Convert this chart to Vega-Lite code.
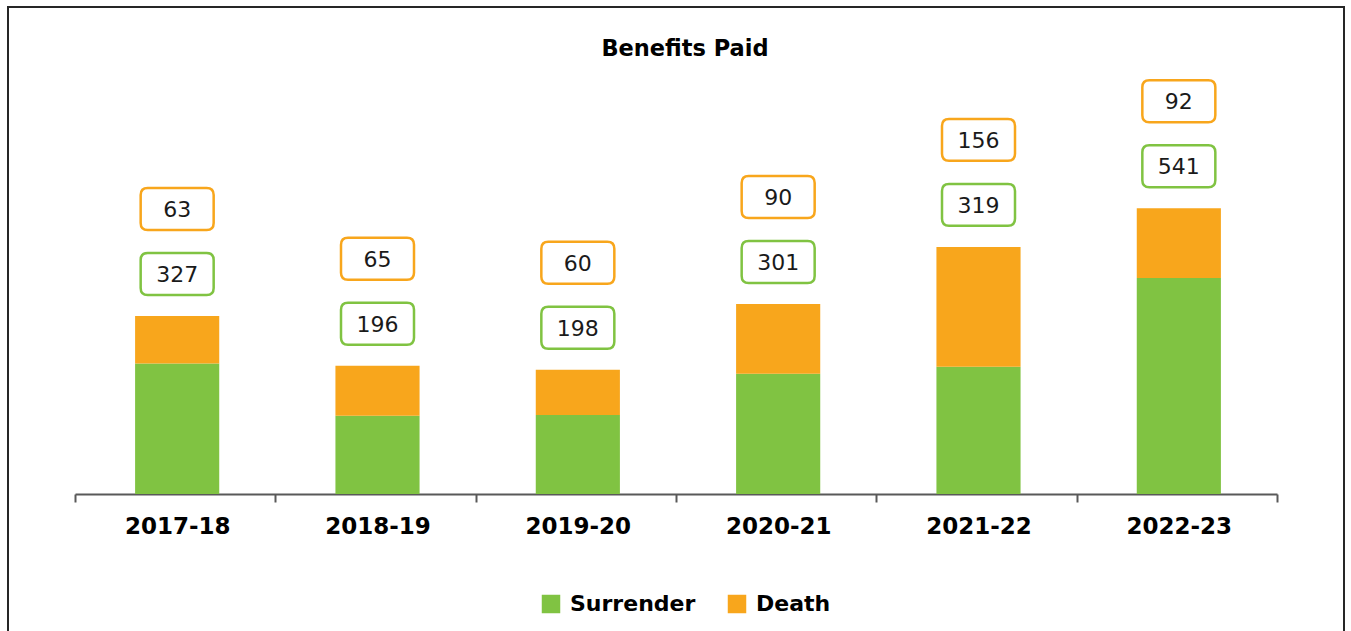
{
  "$schema": "https://vega.github.io/schema/vega-lite/v6.json",
  "autosize": {"type": "none"},
  "padding": {"left": 8, "top": 7, "right": 7, "bottom": -1},
  "width": 1336,
  "height": 625,
  "background": "white",
  "config": {"view": {"stroke": "#262626", "strokeWidth": 2}, "font": "DejaVu Sans"},
  "title": {"text": "Benefits Paid", "font": "DejaVu Sans", "fontSize": 22.5, "fontWeight": "bold", "color": "#000000", "anchor": "middle", "offset": -71.5, "dx": 9, "baseline": "alphabetic"},
  "data": {"values": [
    {"year": "2017-18", "series": "Surrender", "amount": 327, "label": 327},
    {"year": "2017-18", "series": "Death", "amount": 119, "label": 63},
    {"year": "2018-19", "series": "Surrender", "amount": 196, "label": 196},
    {"year": "2018-19", "series": "Death", "amount": 125, "label": 65},
    {"year": "2019-20", "series": "Surrender", "amount": 198, "label": 198},
    {"year": "2019-20", "series": "Death", "amount": 113, "label": 60},
    {"year": "2020-21", "series": "Surrender", "amount": 301, "label": 301},
    {"year": "2020-21", "series": "Death", "amount": 175, "label": 90},
    {"year": "2021-22", "series": "Surrender", "amount": 319, "label": 319},
    {"year": "2021-22", "series": "Death", "amount": 300, "label": 156},
    {"year": "2022-23", "series": "Surrender", "amount": 541, "label": 541},
    {"year": "2022-23", "series": "Death", "amount": 175, "label": 92}
  ]},
  "encoding": {
    "x": {"field": "year", "type": "nominal", "sort": null,
      "scale": {"range": [67, 1269], "paddingInner": 0, "paddingOuter": 0},
      "axis": {"title": null, "orient": "bottom", "labelAngle": 0, "labelFont": "DejaVu Sans", "labelFontSize": 23, "labelFontWeight": "bold", "labelColor": "#000000", "labelBaseline": "alphabetic", "labelPadding": 31, "labelOffset": 2, "tickBand": "extent", "tickSize": 8, "tickWidth": 2, "tickColor": "#595959", "domainColor": "#595959", "domainWidth": 2, "offset": -138, "grid": false}}
  },
  "layer": [
    {
      "mark": {"type": "bar", "width": {"band": 0.42}, "xOffset": 2},
      "encoding": {
        "y": {"field": "amount", "type": "quantitative", "stack": "zero", "scale": {"domain": [-345.7, 1219.9], "nice": false, "zero": false}, "axis": null},
        "color": {"field": "series", "type": "nominal", "scale": {"domain": ["Surrender", "Death"], "range": ["#80C342", "#F8A61C"]},
          "legend": {"orient": "none", "legendX": 532, "legendY": 586, "direction": "horizontal", "title": null, "symbolType": "square", "symbolSize": 342, "symbolStrokeWidth": 0, "labelFont": "DejaVu Sans", "labelFontSize": 22, "labelFontWeight": "bold", "labelColor": "#000000", "labelOffset": 8, "columnPadding": 30, "padding": 0}},
        "order": {"field": "series", "sort": "descending"}
      }
    },
    {
      "transform": [{"joinaggregate": [{"op": "sum", "field": "amount", "as": "total"}], "groupby": ["year"]}, {"filter": "datum.series === 'Surrender'"}],
      "mark": {"type": "point", "shape": "M -0.808 -0.575 L 0.808 -0.575 Q 1 -0.575 1 -0.383 L 1 0.383 Q 1 0.575 0.808 0.575 L -0.808 0.575 Q -1 0.575 -1 0.383 L -1 -0.383 Q -1 -0.575 -0.808 -0.575 Z", "size": 5329, "filled": true, "fill": "white", "stroke": "#80C342", "strokeWidth": 2.5, "opacity": 1, "yOffset": -42, "xOffset": 2},
      "encoding": {"y": {"field": "total", "type": "quantitative", "axis": null}}
    },
    {
      "transform": [{"joinaggregate": [{"op": "sum", "field": "amount", "as": "total"}], "groupby": ["year"]}, {"filter": "datum.series === 'Surrender'"}],
      "mark": {"type": "text", "font": "DejaVu Sans", "fontSize": 22, "color": "#1a1a1a", "baseline": "alphabetic", "align": "center", "yOffset": -34, "xOffset": 2},
      "encoding": {"y": {"field": "total", "type": "quantitative", "axis": null}, "text": {"field": "label", "type": "quantitative"}}
    },
    {
      "transform": [{"joinaggregate": [{"op": "sum", "field": "amount", "as": "total"}], "groupby": ["year"]}, {"filter": "datum.series === 'Death'"}],
      "mark": {"type": "point", "shape": "M -0.808 -0.575 L 0.808 -0.575 Q 1 -0.575 1 -0.383 L 1 0.383 Q 1 0.575 0.808 0.575 L -0.808 0.575 Q -1 0.575 -1 0.383 L -1 -0.383 Q -1 -0.575 -0.808 -0.575 Z", "size": 5329, "filled": true, "fill": "white", "stroke": "#F8A61C", "strokeWidth": 2.5, "opacity": 1, "yOffset": -107, "xOffset": 2},
      "encoding": {"y": {"field": "total", "type": "quantitative", "axis": null}}
    },
    {
      "transform": [{"joinaggregate": [{"op": "sum", "field": "amount", "as": "total"}], "groupby": ["year"]}, {"filter": "datum.series === 'Death'"}],
      "mark": {"type": "text", "font": "DejaVu Sans", "fontSize": 22, "color": "#1a1a1a", "baseline": "alphabetic", "align": "center", "yOffset": -99, "xOffset": 2},
      "encoding": {"y": {"field": "total", "type": "quantitative", "axis": null}, "text": {"field": "label", "type": "quantitative"}}
    }
  ]
}
